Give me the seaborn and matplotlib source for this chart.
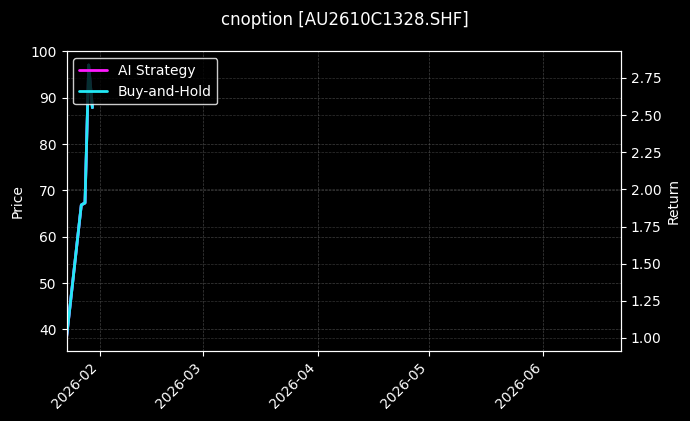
import matplotlib
matplotlib.use("Agg")
import matplotlib.pyplot as plt
import matplotlib.dates as mdates
import seaborn as sns
import pandas as pd
import numpy as np

dates = ["2026-01-23", "2026-01-27", "2026-01-28", "2026-01-29", "2026-01-30"]
price = [38.3, 66.9, 67.4, 97.1, 87.9]
ai_strategy = [1.000, 1.895, 1.908, 2.837, 2.550]
buy_and_hold = [1.000, 1.895, 1.908, 2.837, 2.550]
title = "cnoption [AU2610C1328.SHF]"

df = pd.DataFrame({
    "date": pd.to_datetime(dates),
    "price": price,
    "ai": ai_strategy,
    "bh": buy_and_hold,
})

plt.style.use("dark_background")
sns.set_style("dark", {"axes.facecolor": "black", "figure.facecolor": "black"})
plt.rcParams["font.family"] = ["DejaVu Sans"]
plt.rcParams["text.color"] = "white"
plt.rcParams["axes.labelcolor"] = "white"
plt.rcParams["xtick.color"] = "white"
plt.rcParams["ytick.color"] = "white"

fig = plt.figure(figsize=(6.9, 4.21), dpi=100, facecolor="black")
ax = fig.add_axes([0.0964, 0.1663, 0.9 - 0.0964, 0.8777 - 0.1663])
ax.set_facecolor("black")

sns.lineplot(data=df, x="date", y="price", ax=ax, color="#00e5ff", linewidth=2, legend=False)
ax.set_ylabel("Price", color="white")
ax.set_xlabel("")
ax.set_ylim(35.36, 100)
ax.set_xlim(pd.Timestamp("2026-01-23"), pd.Timestamp("2026-06-22"))
ax.grid(True, linestyle="--", linewidth=0.5, color="gray", alpha=0.5)

ax2 = ax.twinx()
sns.lineplot(data=df, x="date", y="ai", ax=ax2, color="#ff1aff", linewidth=2, label="AI Strategy")
sns.lineplot(data=df, x="date", y="bh", ax=ax2, color="#22e8f5", linewidth=2, label="Buy-and-Hold")
ax2.set_ylabel("Return", color="white")
ax2.set_ylim(0.9125, 2.928)
ax2.grid(True, linestyle="--", linewidth=0.5, color="gray", alpha=0.4)
ax2.set_xlim(pd.Timestamp("2026-01-23"), pd.Timestamp("2026-06-22"))

for a in (ax, ax2):
    for s in a.spines.values():
        s.set_color("white")
        s.set_visible(True)
    a.tick_params(colors="white", which="both", length=3.5, width=0.8, direction="out")
    a.tick_params(axis="both", labelsize=10)
ax.tick_params(left=True, bottom=True)
ax2.tick_params(right=True)

ax.xaxis.set_major_locator(mdates.MonthLocator())
ax.xaxis.set_major_formatter(mdates.DateFormatter("%Y-%m"))
plt.setp(ax.get_xticklabels(), rotation=45, ha="right")

leg = ax2.legend(loc="upper left", facecolor="black", edgecolor="white", framealpha=0.8)
for t in leg.get_texts():
    t.set_color("white")

fig.suptitle(title, color="white", fontsize=12, y=0.975)
fig.savefig("out.png", dpi=100, facecolor="black")
